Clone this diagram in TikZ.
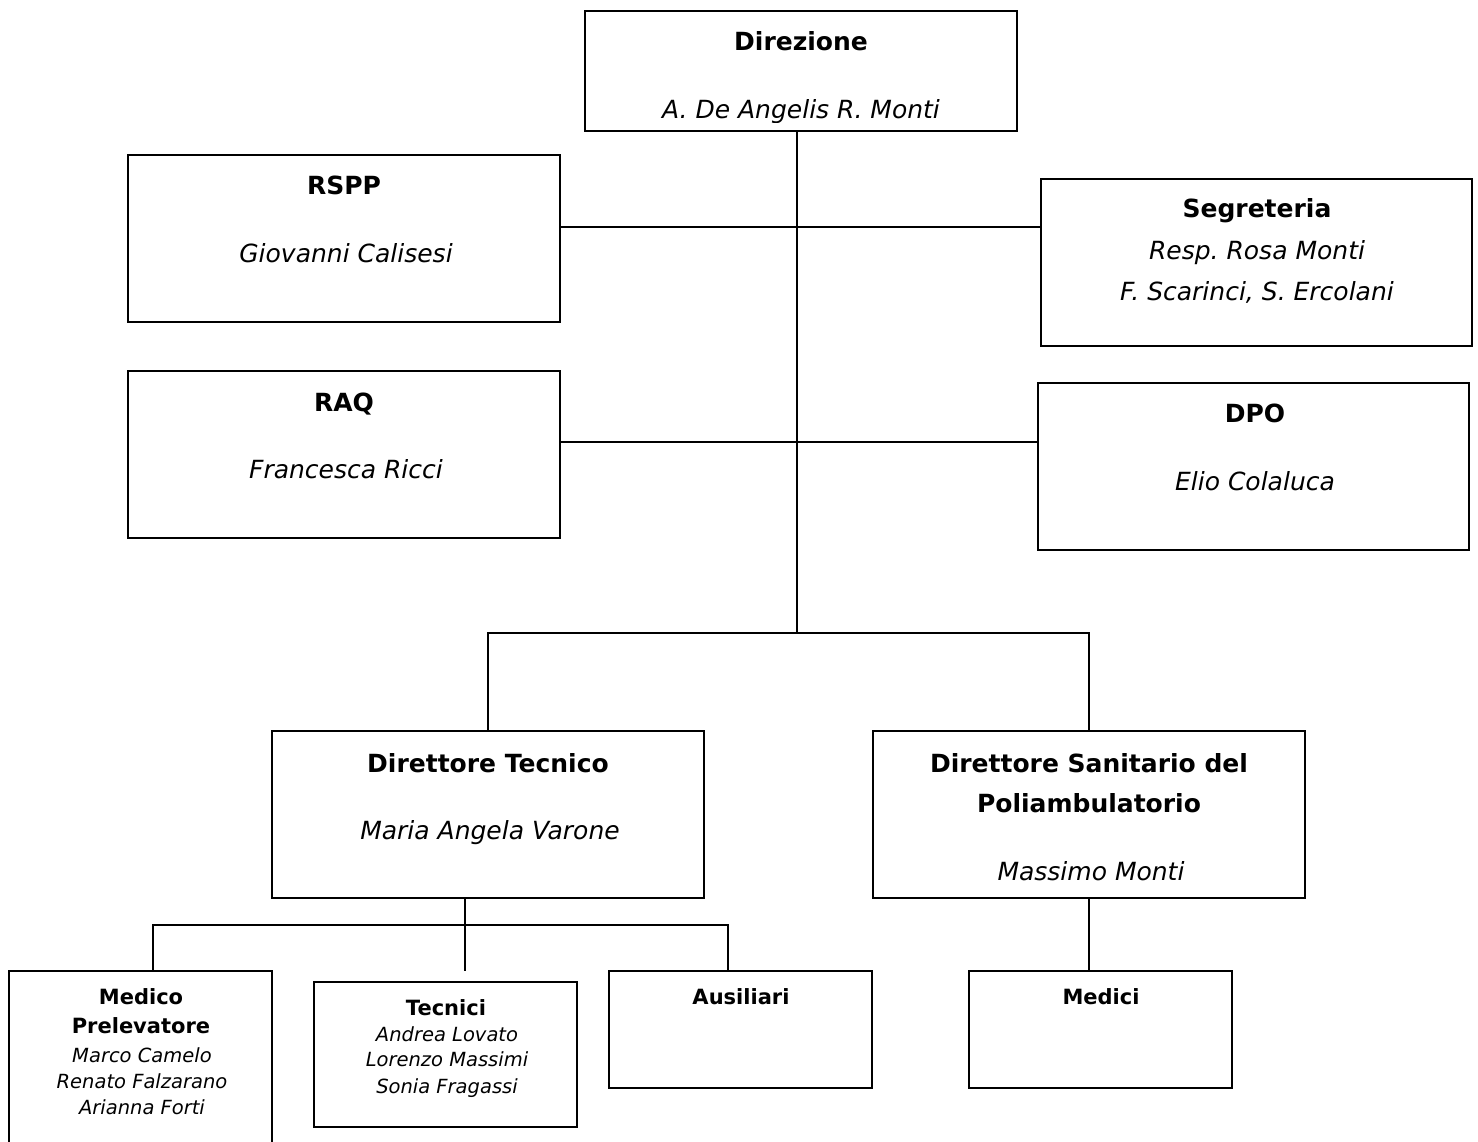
\documentclass[tikz,border=0pt]{standalone}
\usepackage{fontspec}
\setmainfont{DejaVu Sans}
\frenchspacing
\begin{document}
\begin{tikzpicture}[x=1pt,y=-1pt,
  box/.style={draw, line width=2pt, inner sep=0pt, outer sep=0pt},
  conn/.style={line width=1.6pt},
  ttl/.style={font=\fontsize{25}{30}\selectfont\bfseries, anchor=base, inner sep=0pt},
  nm/.style={font=\fontsize{25}{30}\selectfont\itshape, anchor=base, inner sep=0pt},
  sttl/.style={font=\fontsize{21}{25}\selectfont\bfseries, anchor=base, inner sep=0pt},
  snm/.style={font=\fontsize{19.5}{23}\selectfont\itshape, anchor=base, inner sep=0pt}]
\useasboundingbox[fill=white] (0,0) rectangle (1478,1142);

% boxes
\node[box, minimum width=432pt, minimum height=120pt] (dir) at (801,71) {};
\node[box, minimum width=432pt, minimum height=167pt] (rspp) at (344,238.5) {};
\node[box, minimum width=431pt, minimum height=167pt] (segr) at (1256.5,262.5) {};
\node[box, minimum width=432pt, minimum height=167pt] (raq) at (344,454.5) {};
\node[box, minimum width=431pt, minimum height=167pt] (dpo) at (1253.5,466.5) {};
\node[box, minimum width=432pt, minimum height=167pt] (dt) at (488,814.5) {};
\node[box, minimum width=432pt, minimum height=167pt] (ds) at (1089,814.5) {};
\node[box, minimum width=263pt, minimum height=179pt] (med) at (140.5,1060.5) {};
\node[box, minimum width=263pt, minimum height=145pt] (tec) at (445.5,1054.5) {};
\node[box, minimum width=263pt, minimum height=117pt] (aus) at (740.5,1029.5) {};
\node[box, minimum width=263pt, minimum height=117pt] (medici) at (1100.5,1029.5) {};

% texts
\node[ttl] (tdir) at (801,51) {Direzione};
\begin{scope}
\clip (586,12) rectangle (1016,122.5);
\node[nm] (ndir) at (801,119) {A. De Angelis R. Monti};
\end{scope}
\node[ttl] (trspp) at (344,195) {RSPP};
\node[nm] (nrspp) at (346,262) {Giovanni Calisesi};
\node[ttl] (tsegr) at (1257,218) {Segreteria};
\node[nm] (nsegr1) at (1257,259) {Resp. Rosa Monti};
\node[nm] (nsegr2) at (1257,300) {F. Scarinci, S. Ercolani};
\node[ttl] (traq) at (344,411) {RAQ};
\node[nm] (nraq) at (346,478) {Francesca Ricci};
\node[ttl] (tdpo) at (1255,422) {DPO};
\node[nm] (ndpo) at (1255,490) {Elio Colaluca};
\node[ttl] (tdt) at (488,772) {Direttore Tecnico};
\node[nm] (ndt) at (490,839) {Maria Angela Varone};
\node[ttl] (tds1) at (1089,772) {Direttore Sanitario del};
\node[ttl] (tds2) at (1089,812) {Poliambulatorio};
\node[nm] (nds) at (1091,880) {Massimo Monti};
\node[sttl] (tmed1) at (141,1004) {Medico};
\node[sttl] (tmed2) at (141,1033) {Prelevatore};
\node[snm] (nmed1) at (142,1062) {Marco Camelo};
\node[snm] (nmed2) at (142,1088) {Renato Falzarano};
\node[snm] (nmed3) at (142,1114) {Arianna Forti};
\node[sttl] (ttec) at (446,1015) {Tecnici};
\node[snm] (ntec1) at (447,1041) {Andrea Lovato};
\node[snm] (ntec2) at (447,1066) {Lorenzo Massimi};
\node[snm] (ntec3) at (447,1093) {Sonia Fragassi};
\node[sttl] (taus) at (741,1004) {Ausiliari};
\node[sttl] (tmedici) at (1101,1004) {Medici};

% junction coordinates
\coordinate (s0) at (797,131);
\coordinate (j1) at (797,227);
\coordinate (j2) at (797,442);
\coordinate (j3) at (797,633);
\coordinate (k0) at (465,898);
\coordinate (k1) at (465,925);
\coordinate (k2) at (465,971);
\coordinate (kl) at (153,925);
\coordinate (kr) at (728,925);

% connectors
\draw[conn] (s0) -- (j3);
\draw[conn] (rspp.east |- j1) -- (segr.west |- j1);
\draw[conn] (raq.east |- j2) -- (dpo.west |- j2);
\draw[conn] (dt.north) |- (j3) -| (ds.north);
\draw[conn] (k0) -- (k2);
\draw[conn] (med.north -| kl) -- (kl) -- (kr) -- (aus.north -| kr);
\draw[conn] (ds.south) -- (ds.south |- medici.north);
\end{tikzpicture}
\end{document}
